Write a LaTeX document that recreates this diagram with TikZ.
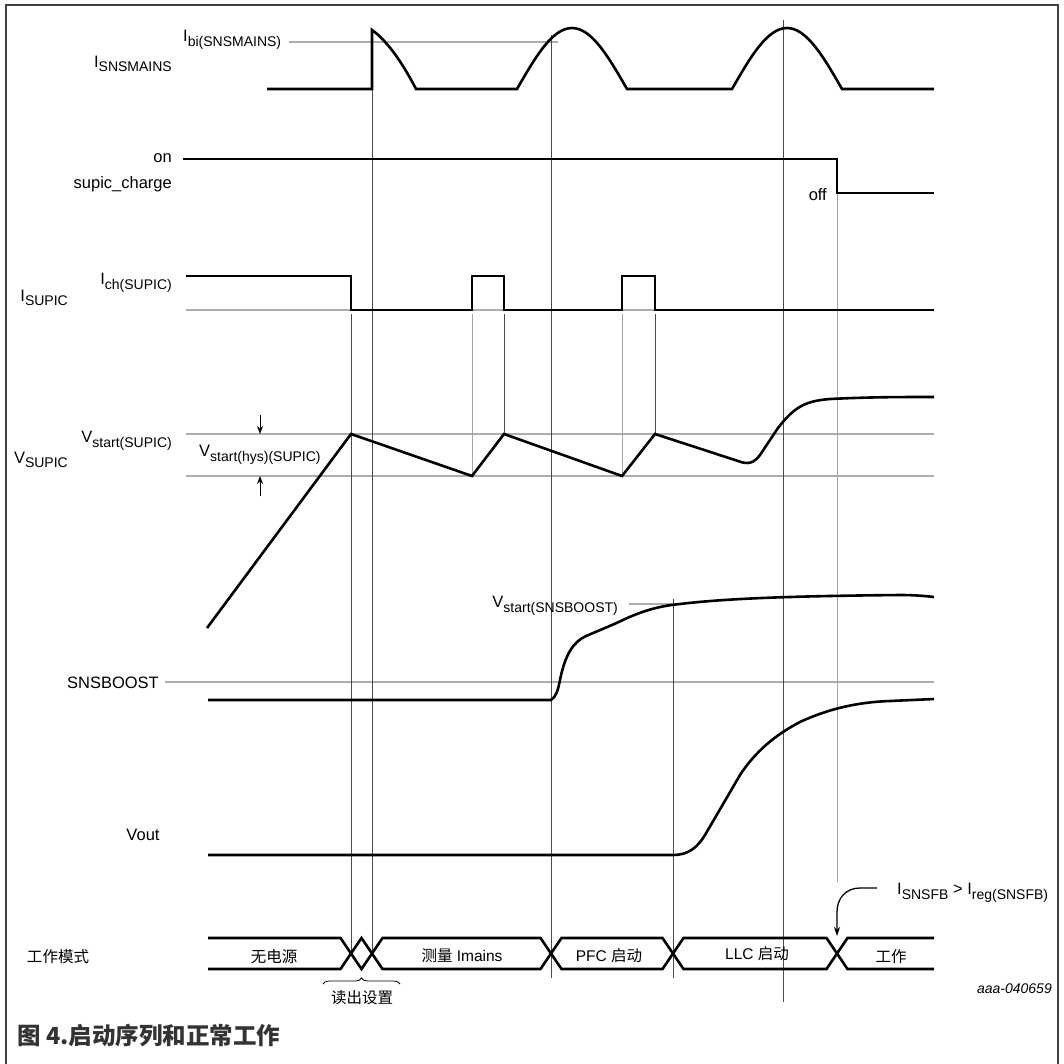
\documentclass[tikz,border=0pt]{standalone}
\usepackage{fontspec}
\setmainfont{Liberation Sans}
\newfontfamily\cjk{Noto Sans CJK SC}
\usetikzlibrary{arrows.meta,decorations.pathreplacing}
\newcommand\subs[1]{\raisebox{-4.5pt}{\fontsize{14}{15}\selectfont #1}}
\begin{document}
\begin{tikzpicture}[x=1pt,y=-1pt,
  wave/.style={line width=2.6pt,black,line join=miter},
  refline/.style={line width=1.1pt,black!32},
  vdark/.style={line width=0.8pt,black!70},
  vlight/.style={line width=0.8pt,black!35},
  framestyle/.style={line width=1.2pt,black!75},
  lbl/.style={font=\fontsize{16.5}{18}\selectfont,inner sep=0pt},
  modelbl/.style={font=\fontsize{15.5}{17}\selectfont,inner sep=0pt},
  tinyarrow/.style={line width=0.9pt,-{Stealth[length=8pt,width=6pt]}},
  annarrow/.style={line width=1.3pt,-{Stealth[length=9pt,width=6pt]}}]
\useasboundingbox (0,0) rectangle (1063,1064);
\fill[white] (0,0) rectangle (1063,1064);
% frame
\draw[framestyle] (6,1064) -- (6,5) -- (1058,5) -- (1058,1064);

% reference lines
\draw[refline] (289,42) -- (558,42);
\draw[refline] (186,310) -- (934,310);
\draw[refline] (186,434) -- (934,434);
\draw[refline] (186,476) -- (934,476);
\draw[refline] (165,682) -- (934,682);
\draw[refline] (629,604) -- (673,604);

% vertical timing lines
\draw[vdark] (351,314) -- (351,953);
\draw[vdark] (372,89) -- (372,953);
\draw[vlight] (472,314) -- (472,476);
\draw[vdark] (504,314) -- (504,434);
\draw[vdark] (551,35) -- (551,978);
\draw[vlight] (622,314) -- (622,476);
\draw[vdark] (655,314) -- (655,434);
\draw[vdark] (673,599) -- (673,978);
\draw[vdark] (783,20) -- (783,1002);
\draw[vlight] (837,193) -- (837,882);

% I_SNSMAINS
\draw[wave] (267,89) -- (372,89) -- (372,30)
  .. controls (386,40) and (401,60) .. (416,89) -- (517,89)
  .. controls (535.4,57) and (552.3,28) .. (572,28)
  .. controls (591.7,28) and (608.6,57) .. (627,89) -- (732,89)
  .. controls (750.4,57) and (767.3,28) .. (787,28)
  .. controls (806.7,28) and (823.6,57) .. (842,89) -- (934,89);

% supic_charge
\draw[wave] (183,159) -- (837,159) -- (837,193) -- (934,193);

% I_SUPIC
\draw[wave] (186,276) -- (351,276) -- (351,310) -- (472,310) -- (472,276)
  -- (504,276) -- (504,310) -- (622,310) -- (622,276) -- (655,276)
  -- (655,310) -- (934,310);

% V_SUPIC
\draw[wave] (207,628) -- (351,434) -- (472,476) -- (504,434) -- (622,476)
  -- (655,434) -- (738,461) .. controls (748,465) and (754,463) .. (760,455)
  -- (778,428) .. controls (795,406) and (806,401) .. (830,399)
  .. controls (870,397) and (900,397) .. (934,397);

% SNSBOOST
\draw[wave] (208,700) -- (551,700) .. controls (556,697) and (558,690) .. (560,680)
  .. controls (565,655) and (573,642) .. (586,636)
  .. controls (600,630) and (615,624) .. (625,619)
  .. controls (645,610) and (660,606) .. (680,604)
  .. controls (730,598) and (800,596) .. (900,595)
  .. controls (915,595) and (925,596) .. (934,597);

% Vout
\draw[wave] (208,855) -- (673,855) .. controls (688,855) and (697,848) .. (705,835)
  -- (740,775) .. controls (755,752) and (775,735) .. (800,722)
  .. controls (830,708) and (860,702) .. (890,701) -- (934,699);

% operating mode bus
\draw[wave] (208,938) -- (340.5,938) -- (361.5,969) -- (382.5,938) -- (540.5,938)
  -- (561.5,969) -- (662.5,969) -- (683.5,938) -- (826.5,938) -- (847.5,969) -- (934,969);
\draw[wave] (208,969) -- (340.5,969) -- (361.5,938) -- (382.5,969) -- (540.5,969)
  -- (561.5,938) -- (662.5,938) -- (683.5,969) -- (826.5,969) -- (847.5,938) -- (934,938);

% hysteresis arrows
\coordinate (hysTopFrom) at (260,415);
\coordinate (hysTopTo) at (260,434);
\coordinate (hysBotFrom) at (260,496);
\coordinate (hysBotTo) at (260,476);
\draw[tinyarrow] (hysTopFrom) -- (hysTopTo);
\draw[tinyarrow] (hysBotFrom) -- (hysBotTo);

% brace
\coordinate (braceL) at (323,984);
\coordinate (braceR) at (400,984);
\draw[line width=0.8pt,decorate,decoration={brace,amplitude=6pt}] (braceL) -- (braceR);

% labels
\node[lbl,anchor=east] (lIsns) at (172,64) {I\subs{SNSMAINS}};
\node[lbl,anchor=west] (lIbi) at (183,40) {I\subs{bi(SNSMAINS)}};
\node[lbl,anchor=east] (lon) at (172,158) {on};
\node[lbl,anchor=east] (lsupic) at (172,184) {supic\_charge};
\node[lbl,anchor=east] (loff) at (827,195) {off};
\node[lbl,anchor=east] (lIsupic) at (68,298) {I\subs{SUPIC}};
\node[lbl,anchor=east] (lIch) at (172,283) {I\subs{ch(SUPIC)}};
\node[lbl,anchor=east] (lVsupic) at (68,460) {V\subs{SUPIC}};
\node[lbl,anchor=east] (lVstart) at (172,441) {V\subs{start(SUPIC)}};
\node[lbl,anchor=west] (lVhys) at (199,455) {V\subs{start(hys)(SUPIC)}};
\node[lbl,anchor=east] (lSnsboost) at (159,683) {SNSBOOST};
\node[lbl,anchor=east] (lVsb) at (618,606) {V\subs{start(SNSBOOST)}};
\node[lbl] (lVout) at (143,835) {Vout};
\node[lbl,anchor=west] (lann) at (897,893) {I\subs{SNSFB} > I\subs{reg(SNSFB)}};

% annotation arrow
\coordinate (annStart) at (877,888);
\coordinate (annTip) at (837,936);
\draw[annarrow] (annStart) -- (860,888) .. controls (846,888) and (837,898) .. (837,912) -- (annTip);

% mode labels
\node[modelbl] (mMode) at (58,957) {\cjk 工作模式};
\node[modelbl] (mNone) at (274,957) {\cjk 无电源};
\node[modelbl] (mMeas) at (462,956) {{\cjk 测量} Imains};
\node[modelbl] (mPfc) at (609,956) {PFC {\cjk 启动}};
\node[modelbl] (mLlc) at (757,954) {LLC {\cjk 启动}};
\node[modelbl] (mWork) at (891,957) {\cjk 工作};
\node[modelbl] (mRead) at (362,998) {\cjk 读出设置};

\node[font=\fontsize{14}{16}\selectfont\itshape,inner sep=0pt,anchor=east] (lid) at (1052,989) {aaa-040659};
\node[font=\fontsize{23.5}{25}\selectfont\cjk\bfseries,text=black!80,inner sep=0pt,anchor=west] (lcap) at (17,1036) {图 4.启动序列和正常工作};
\end{tikzpicture}
\end{document}
